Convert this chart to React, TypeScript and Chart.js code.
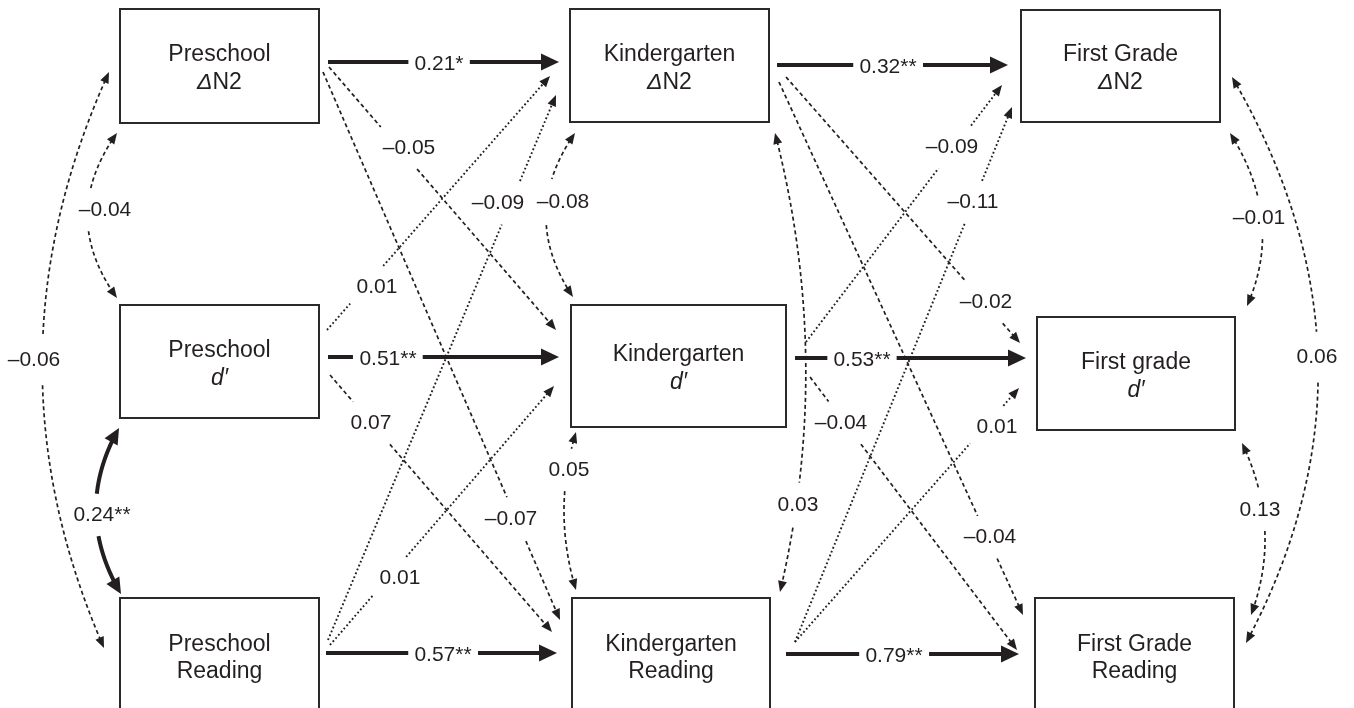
import { useEffect, useRef } from "react";
import { Chart, registerables } from "chart.js";

Chart.register(...registerables);

// ---------- values ----------
const NODE_TITLES = [
  "Preschool", "Preschool", "Preschool",
  "Kindergarten", "Kindergarten", "Kindergarten",
  "First Grade", "First grade", "First Grade",
];
const NODE_MEASURES = ["ΔN2", "d′", "Reading", "ΔN2", "d′", "Reading", "ΔN2", "d′", "Reading"];

// autoregressive (stability) paths
const STABILITY_PATHS = ["0.21*", "0.32**", "0.51**", "0.53**", "0.57**", "0.79**"];
// cross-lagged paths
const CROSS_LAGGED_PATHS = [
  "–0.05", "–0.07", "0.01", "0.07", "–0.09", "0.01",
  "–0.02", "–0.04", "–0.09", "–0.04", "–0.11", "0.01",
];
// within-time covariances
const COVARIANCES = ["–0.04", "0.24**", "–0.06", "–0.08", "0.05", "0.03", "–0.01", "0.13", "0.06"];

// ---------- layout (in units of the hidden 1354 x 708 axes) ----------
const NODE_BOXES = [
  [120, 9, 319, 123],
  [120, 305, 319, 418],
  [120, 598, 319, 760],
  [570, 9, 769, 122],
  [571, 305, 786, 427],
  [572, 598, 770, 760],
  [1021, 10, 1220, 122],
  [1037, 317, 1235, 430],
  [1035, 598, 1234, 760],
];
// [x0, y0, x1, y1, labelX, labelY]
const STABILITY_GEOM = [
  [328, 62, 559, 62, 439, 64],
  [777, 65, 1008, 65, 888, 67],
  [328, 357, 559, 357, 388, 359],
  [795, 358, 1026, 358, 862, 360],
  [326, 653, 557, 653, 443, 655],
  [786, 654, 1019, 654, 894, 656],
];
const CROSS_GEOM = [
  [329, 67, 556, 330, 409, 148],
  [323, 72, 560, 620, 511, 519],
  [327, 330, 550, 76, 377, 287],
  [330, 375, 552, 632, 371, 423],
  [328, 640, 556, 95, 498, 203],
  [330, 645, 554, 386, 400, 578],
  [786, 77, 1020, 343, 986, 302],
  [779, 82, 1023, 615, 990, 537],
  [806, 342, 1002, 85, 952, 147],
  [810, 377, 1017, 650, 841, 423],
  [795, 642, 1012, 107, 973, 202],
  [795, 642, 1019, 388, 997, 427],
];
const CROSS_STYLE = ["dash", "dash", "dot", "dash", "dot", "dot", "dash", "dash", "dot", "dash", "dot", "dot"];
// [x0, y0, ctrlX, ctrlY, x1, y1, labelX, labelY, gapPad]
const COV_GEOM = [
  [117, 133, 58, 216, 117, 298, 105, 210, 13],
  [119, 428, 72, 511, 121, 594, 102, 515, 13],
  [109, 72, -22, 360, 104, 648, 34, 360, 17],
  [575, 133, 518, 215, 573, 297, 563, 202, 15],
  [576, 432, 552, 511, 576, 590, 569, 470, 13],
  [775, 133, 834, 362, 780, 592, 798, 505, 14],
  [1230, 133, 1285, 220, 1247, 306, 1259, 218, 13],
  [1242, 443, 1283, 529, 1251, 615, 1260, 510, 13],
  [1232, 77, 1397, 360, 1246, 643, 1317, 357, 17],
];
const COV_STYLE = ["dash", "thick", "dash", "dash", "dash", "dash", "dash", "dash", "dash"];

const FONT = '"Liberation Sans", Arial, Helvetica, sans-serif';
const INK = "#231f20";

type Pt = [number, number];

function arrowHead(ctx: CanvasRenderingContext2D, tip: Pt, dir: Pt, L: number, W: number) {
  const len = Math.hypot(dir[0], dir[1]) || 1;
  const ux = dir[0] / len;
  const uy = dir[1] / len;
  const bx = tip[0] - ux * L;
  const by = tip[1] - uy * L;
  ctx.beginPath();
  ctx.moveTo(tip[0], tip[1]);
  ctx.lineTo(bx - uy * W / 2, by + ux * W / 2);
  ctx.lineTo(bx + uy * W / 2, by - ux * W / 2);
  ctx.closePath();
  ctx.fill();
}

function drawEdge(
  ctx: CanvasRenderingContext2D,
  p0: Pt,
  c: Pt | null,
  p1: Pt,
  style: string,
  heads: number,
  label: string,
  lab: Pt,
  padY: number,
  thickHead: boolean
) {
  ctx.font = `21px ${FONT}`;
  const tw = ctx.measureText(label).width;
  const hw = tw / 2 + 6;
  const hh = 8 + padY;
  const width = style === "thick" ? 4 : style === "dot" ? 1.9 : 1.7;
  const L = thickHead ? (c ? 16 : 18) : 11;
  const W = thickHead ? (c ? 15 : 17) : 9;
  const at = (t: number): Pt => {
    if (c) {
      const a = (1 - t) * (1 - t), b = 2 * t * (1 - t), d = t * t;
      return [a * p0[0] + b * c[0] + d * p1[0], a * p0[1] + b * c[1] + d * p1[1]];
    }
    return [p0[0] + (p1[0] - p0[0]) * t, p0[1] + (p1[1] - p0[1]) * t];
  };
  ctx.save();
  ctx.strokeStyle = INK;
  ctx.fillStyle = INK;
  ctx.lineWidth = width;
  ctx.lineCap = "butt";
  if (style === "dash") ctx.setLineDash([4, 3]);
  else if (style === "dot") ctx.setLineDash([1.8, 2.4]);
  else ctx.setLineDash([]);
  ctx.beginPath();
  const N = 500;
  let prevIn = false;
  for (let i = 0; i <= N; i++) {
    const p = at(i / N);
    let inside = true;
    if (Math.hypot(p[0] - p1[0], p[1] - p1[1]) < L * 0.75) inside = false;
    if (heads === 2 && Math.hypot(p[0] - p0[0], p[1] - p0[1]) < L * 0.75) inside = false;
    if (Math.abs(p[0] - lab[0]) < hw && Math.abs(p[1] - lab[1]) < hh) inside = false;
    if (inside) {
      if (prevIn) ctx.lineTo(p[0], p[1]);
      else ctx.moveTo(p[0], p[1]);
    }
    prevIn = inside;
  }
  ctx.stroke();
  ctx.setLineDash([]);
  const endDir: Pt = c ? [p1[0] - c[0], p1[1] - c[1]] : [p1[0] - p0[0], p1[1] - p0[1]];
  arrowHead(ctx, p1, endDir, L, W);
  if (heads === 2) {
    const startDir: Pt = c ? [p0[0] - c[0], p0[1] - c[1]] : [p0[0] - p1[0], p0[1] - p1[1]];
    arrowHead(ctx, p0, startDir, L, W);
  }
  ctx.textAlign = "center";
  ctx.textBaseline = "middle";
  ctx.fillText(label, lab[0], lab[1]);
  ctx.restore();
}

const diagramPlugin = {
  id: "pathDiagram",
  afterDatasetsDraw(chart: any) {
    const ctx: CanvasRenderingContext2D = chart.ctx;
    const xs = chart.scales.x;
    const ys = chart.scales.y;
    const P = (x: number, y: number): Pt => [xs.getPixelForValue(x), ys.getPixelForValue(y)];

    // boxes
    ctx.save();
    ctx.strokeStyle = "#2a2a2a";
    ctx.lineWidth = 2;
    ctx.fillStyle = INK;
    NODE_BOXES.forEach((b, i) => {
      const a = P(b[0], b[1]);
      const z = P(b[2], b[3]);
      ctx.strokeRect(a[0], a[1], z[0] - a[0], z[1] - a[1]);
      const cx = (a[0] + z[0]) / 2;
      let y1: number, y2: number;
      if (b[3] > 708) {
        y1 = a[1] + 47;
        y2 = a[1] + 74;
      } else {
        const cy = (a[1] + z[1]) / 2;
        y1 = cy - 11;
        y2 = cy + 17;
      }
      ctx.textBaseline = "middle";
      ctx.textAlign = "center";
      ctx.font = `23px ${FONT}`;
      ctx.fillText(NODE_TITLES[i], cx, y1);
      const m = NODE_MEASURES[i];
      if (m.startsWith("Δ")) {
        ctx.font = `italic 23px ${FONT}`;
        const w1 = ctx.measureText("Δ").width;
        ctx.font = `23px ${FONT}`;
        const w2 = ctx.measureText(m.slice(1)).width;
        const start = cx - (w1 + w2) / 2;
        ctx.textAlign = "left";
        ctx.font = `italic 23px ${FONT}`;
        ctx.fillText("Δ", start, y2);
        ctx.font = `23px ${FONT}`;
        ctx.fillText(m.slice(1), start + w1, y2);
      } else if (m.startsWith("d")) {
        ctx.font = `italic 23px ${FONT}`;
        ctx.fillText(m, cx, y2);
      } else {
        ctx.fillText(m, cx, y2);
      }
    });
    ctx.restore();

    STABILITY_GEOM.forEach((g, i) => {
      drawEdge(ctx, P(g[0], g[1]), null, P(g[2], g[3]), "thick", 1, STABILITY_PATHS[i], P(g[4], g[5]), 10, true);
    });
    CROSS_GEOM.forEach((g, i) => {
      drawEdge(ctx, P(g[0], g[1]), null, P(g[2], g[3]), CROSS_STYLE[i], 1, CROSS_LAGGED_PATHS[i], P(g[4], g[5]), 13, false);
    });
    COV_GEOM.forEach((g, i) => {
      const thick = COV_STYLE[i] === "thick";
      drawEdge(ctx, P(g[0], g[1]), P(g[2], g[3]), P(g[4], g[5]), COV_STYLE[i], 2, COVARIANCES[i], P(g[6], g[7]), g[8], thick);
    });
  },
};

export default function App() {
  const ref = useRef<HTMLCanvasElement | null>(null);
  useEffect(() => {
    document.body.style.margin = "0";
    const canvas = ref.current;
    if (!canvas) return;
    const centers = NODE_BOXES.map((b) => ({ x: (b[0] + b[2]) / 2, y: (b[1] + Math.min(b[3], 708)) / 2 }));
    const chart = new Chart(canvas, {
      type: "scatter",
      data: {
        datasets: [{ label: "nodes", data: centers, pointRadius: 0, pointHoverRadius: 0 }],
      },
      options: {
        responsive: false,
        animation: false,
        devicePixelRatio: 1,
        layout: { padding: 0 },
        events: [],
        plugins: { legend: { display: false }, tooltip: { enabled: false } },
        scales: {
          x: { type: "linear", min: 0, max: 1354, display: false },
          y: { type: "linear", min: 0, max: 708, reverse: true, display: false },
        },
      },
      plugins: [diagramPlugin],
    });
    return () => chart.destroy();
  }, []);
  return (
    <div style={{ width: 1354, height: 708, background: "#fff" }}>
      <canvas ref={ref} width={1354} height={708} style={{ display: "block" }} />
    </div>
  );
}
